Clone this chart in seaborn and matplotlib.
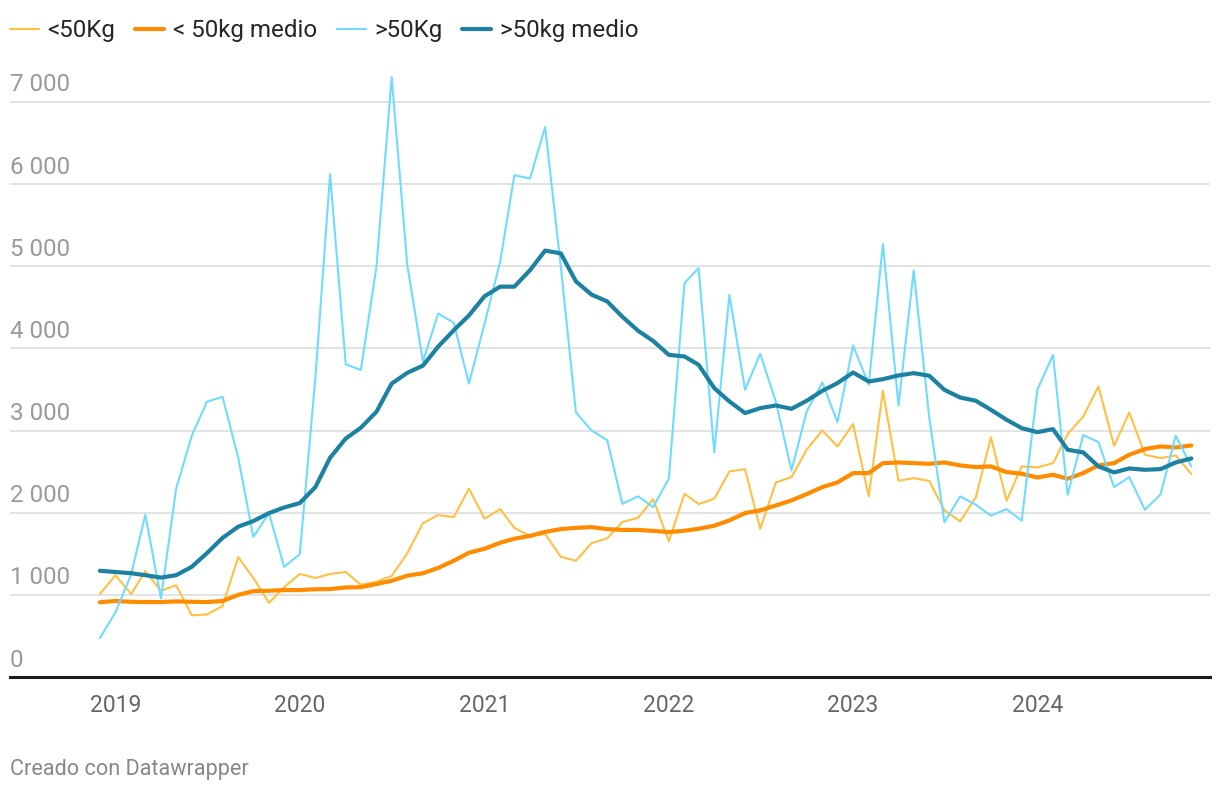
import matplotlib
matplotlib.use("Agg")
import matplotlib.pyplot as plt
import matplotlib.transforms as mtransforms
import seaborn as sns
import pandas as pd
import numpy as np

# ---- data (monthly, Dec 2018 - Nov 2024) ----
start_month = "2018-12-01"
n_months = 72

under50 = [1010, 1239, 1010, 1288, 1049, 1117, 751, 761, 863, 1459, 1205, 902,
           1093, 1254, 1205, 1254, 1278, 1122, 1160, 1230, 1507, 1873, 1971, 1946,
           2293, 1927, 2044, 1815, 1717, 1741, 1463, 1415, 1629, 1688, 1888, 1937,
           2166, 1650, 2230, 2105, 2169, 2502, 2530, 1804, 2368, 2433, 2766, 3001,
           2806, 3078, 2198, 3483, 2388, 2421, 2385, 2028, 1894, 2186, 2916, 2145,
           2563, 2551, 2603, 2956, 3171, 3536, 2814, 3220, 2705, 2664, 2697, 2470]

under50_avg = [910, 925, 915, 912, 912, 920, 915, 912, 925, 1000, 1045, 1050,
               1058, 1058, 1068, 1070, 1090, 1093, 1132, 1171, 1234, 1263, 1327, 1415,
               1512, 1561, 1634, 1683, 1717, 1766, 1800, 1815, 1824, 1800, 1790, 1790,
               1778, 1764, 1780, 1804, 1841, 1906, 1995, 2028, 2088, 2149, 2226, 2311,
               2368, 2482, 2482, 2603, 2611, 2603, 2595, 2611, 2575, 2555, 2563, 2494,
               2474, 2429, 2461, 2413, 2482, 2575, 2603, 2705, 2774, 2806, 2794, 2818]

over50 = [473, 790, 1250, 1975, 955, 2290, 2935, 3350, 3410, 2670, 1705, 1995,
          1340, 1495, 3650, 6120, 3805, 3737, 5000, 7300, 5010, 3840, 4424, 4312,
          3571, 4300, 5058, 6107, 6068, 6693, 5000, 3220, 3000, 2883, 2107, 2200,
          2068, 2413, 4793, 4976, 2737, 4651, 3496, 3933, 3350, 2514, 3232, 3585,
          3102, 4035, 3556, 5268, 3305, 4947, 3150, 1882, 2198, 2097, 1963, 2044,
          1902, 3496, 3921, 2218, 2944, 2859, 2311, 2433, 2036, 2222, 2936, 2563]

over50_avg = [1293, 1278, 1263, 1239, 1210, 1239, 1341, 1507, 1693, 1829, 1898, 1995,
              2063, 2117, 2312, 2668, 2902, 3034, 3229, 3571, 3702, 3790, 4020, 4220,
              4400, 4634, 4751, 4751, 4951, 5190, 5156, 4815, 4654, 4571, 4385, 4215,
              4090, 3921, 3901, 3800, 3516, 3354, 3212, 3272, 3305, 3264, 3362, 3483,
              3577, 3706, 3597, 3625, 3670, 3698, 3666, 3495, 3402, 3362, 3252, 3131,
              3029, 2980, 3017, 2766, 2733, 2563, 2490, 2538, 2522, 2530, 2611, 2660]

series_names = ["<50Kg", "< 50kg medio", ">50Kg", ">50kg medio"]
series_values = [under50, under50_avg, over50, over50_avg]
series_colors = ["#ffc043", "#ff8c00", "#6fdcff", "#1d81a2"]
series_widths = [1.5, 3.0, 1.5, 3.0]

y_ticks = [0, 1000, 2000, 3000, 4000, 5000, 6000, 7000]
year_ticks = [2019, 2020, 2021, 2022, 2023, 2024]
footer = "Creado con Datawrapper"

# ---- build dataframe ----
dates = pd.date_range(start_month, periods=n_months, freq="MS")
frames = []
for name, vals in zip(series_names, series_values):
    frames.append(pd.DataFrame({"fecha": dates, "valor": vals, "serie": name}))
df = pd.concat(frames, ignore_index=True)

sns.set_theme(style="white")
plt.rcParams["font.family"] = ["Roboto", "DejaVu Sans"]

fig = plt.figure(figsize=(12.2, 7.94), dpi=100)
ax = fig.add_axes([10 / 1220, (794 - 677) / 794, 1200 / 1220, (677 - 69) / 794])

for name, color, lw in zip(series_names, series_colors, series_widths):
    sub = df[df["serie"] == name]
    sns.lineplot(data=sub, x="fecha", y="valor", ax=ax, color=color,
                 linewidth=lw, label=name, legend=False,
                 solid_joinstyle="round", solid_capstyle="round")

ax.set_xlim(pd.Timestamp("2018-06-06"), pd.Timestamp("2024-12-08"))
ax.set_ylim(0, 7400)

# gridlines
ax.set_yticks(y_ticks)
ax.set_yticklabels([])
ax.tick_params(axis="y", length=0)
for v in y_ticks[1:]:
    ax.axhline(v, color="#e3e3e3", linewidth=1.4, zorder=0)

for s in ["top", "right", "left"]:
    ax.spines[s].set_visible(False)
ax.spines["bottom"].set_color("#1a1a1a")
ax.spines["bottom"].set_linewidth(2.2)
ax.grid(False)

# y labels inside plot, above gridlines
offset = mtransforms.ScaledTranslation(0, 7.5 / 72, fig.dpi_scale_trans)
trans = mtransforms.blended_transform_factory(ax.transAxes, ax.transData) + offset
for v in y_ticks:
    lab = f"{v:,}".replace(",", " ")
    ax.text(0.0, v, lab, transform=trans, ha="left", va="baseline",
            fontsize=17.4, color="#9a9a9a")

# x ticks
ax.set_xticks([pd.Timestamp(f"{y}-01-01") for y in year_ticks])
ax.set_xticklabels([str(y) for y in year_ticks], fontsize=16.5, color="#666666")
ax.tick_params(axis="x", length=0, pad=12)
ax.set_xlabel("")
ax.set_ylabel("")

# legend
handles, labels = ax.get_legend_handles_labels()
fig.legend(handles, labels, loc="center left",
           bbox_to_anchor=(10 / 1220, 1 - 31 / 794), ncol=4, frameon=False,
           fontsize=17.4, handlelength=1.2, handletextpad=0.35,
           columnspacing=0.82, borderpad=0, borderaxespad=0)

fig.text(10 / 1220, 1 - 770 / 794, footer, ha="left", va="center",
         fontsize=15.6, color="#888888")

fig.savefig("out.png", dpi=100)
